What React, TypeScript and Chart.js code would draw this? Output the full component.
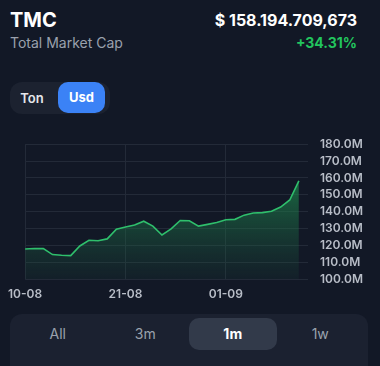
import React, { useEffect, useRef } from "react";
import { Chart, registerables } from "chart.js";

Chart.register(...registerables);

const dates = [
  "10-08", "11-08", "12-08", "13-08", "14-08", "15-08", "16-08", "17-08", "18-08", "19-08",
  "20-08", "21-08", "22-08", "23-08", "24-08", "25-08", "26-08", "27-08", "28-08", "29-08",
  "30-08", "31-08", "01-09", "02-09", "03-09", "04-09", "05-09", "06-09", "07-09", "08-09",
  "09-09",
];
const values = [
  117.8, 118.1, 118.0, 114.5, 114.1, 113.9, 119.6, 123.0, 122.7, 123.8,
  129.5, 130.9, 132.0, 134.3, 131.4, 126.1, 129.7, 134.7, 134.6, 131.4,
  132.4, 133.5, 135.2, 135.4, 137.9, 139.2, 139.4, 140.2, 142.7, 146.9,
  158.19,
];
const yTicks = [100, 110, 120, 130, 140, 150, 160, 170, 180];
const xTickIndexes = [0, 11, 22];
const ranges = ["All", "3m", "1m", "1w"];
const units = ["Ton", "Usd"];

const BG = "#121826";
const FONT = "Inter, 'Noto Sans', sans-serif";

export default function App() {
  const ref = useRef<HTMLCanvasElement | null>(null);

  useEffect(() => {
    document.body.style.margin = "0";
    document.body.style.background = BG;
    const ctx = ref.current!.getContext("2d")!;
    const chart = new Chart(ctx, {
      type: "line",
      data: {
        datasets: [
          {
            data: values.map((v, i) => ({ x: i, y: v })),
            borderColor: "#2fbf6c",
            borderWidth: 1.6,
            pointRadius: 0,
            tension: 0,
            fill: "start",
            backgroundColor: (c: any) => {
              const area = c.chart.chartArea;
              if (!area) return "rgba(34,160,90,0.3)";
              const g = c.chart.ctx.createLinearGradient(0, area.top, 0, area.bottom);
              g.addColorStop(0, "rgba(34,160,90,0.9)");
              g.addColorStop(0.4, "rgba(30,130,75,0.6)");
              g.addColorStop(1, "rgba(30,90,65,0.12)");
              return g;
            },
          },
        ],
      },
      options: {
        animation: false,
        responsive: false,
        maintainAspectRatio: false,
        layout: { padding: { top: 14, left: 24, right: 0, bottom: 0 } },
        plugins: { legend: { display: false }, tooltip: { enabled: false } },
        scales: {
          x: {
            type: "linear",
            min: 0,
            max: dates.length,
            afterBuildTicks: (s: any) => {
              s.ticks = xTickIndexes.map((v) => ({ value: v }));
            },
            afterFit: (s: any) => {
              s.height = 22;
            },
            grid: { color: "#232a38", drawTicks: false, lineWidth: 1 },
            border: { display: false },
            ticks: {
              autoSkip: false,
              padding: 8,
              color: "#b8bdc7",
              font: { family: FONT, size: 12, weight: "600" },
              maxRotation: 0,
              callback: (v: any) => dates[v as number] ?? "",
            },
          },
          y: {
            position: "right",
            min: 100,
            max: 180,
            afterBuildTicks: (s: any) => {
              s.ticks = yTicks.map((v) => ({ value: v }));
            },
            afterFit: (s: any) => {
              s.width = 62;
            },
            grid: { color: "#232a38", drawTicks: false, lineWidth: 1 },
            border: { display: false },
            ticks: {
              autoSkip: false,
              padding: 12,
              color: "#b8bdc7",
              font: { family: FONT, size: 12, weight: "600" },
              callback: (v: any) => Number(v).toFixed(1) + "M",
            },
          },
        },
      },
    } as any);
    return () => chart.destroy();
  }, []);

  return (
    <div
      style={{
        position: "relative",
        width: 380,
        height: 366,
        background: BG,
        overflow: "hidden",
        fontFamily: FONT,
        color: "#fff",
      }}
    >
      <div style={{ position: "absolute", left: 10, top: 10, fontSize: 20, lineHeight: "20px", fontWeight: 700 }}>
        TMC
      </div>
      <div style={{ position: "absolute", left: 10, top: 36, fontSize: 14, lineHeight: "14px", color: "#9aa1ad" }}>
        Total Market Cap
      </div>
      <div
        style={{
          position: "absolute",
          right: 23,
          top: 12,
          fontSize: 16,
          lineHeight: "16px",
          fontWeight: 700,
        }}
      >
        $ 158.194.709,673
      </div>
      <div
        style={{
          position: "absolute",
          right: 23,
          top: 36,
          fontSize: 14,
          lineHeight: "14px",
          fontWeight: 700,
          color: "#22c55e",
        }}
      >
        +34.31%
      </div>

      <div
        style={{
          position: "absolute",
          left: 10,
          top: 82,
          width: 100,
          height: 32,
          borderRadius: 12,
          background: "#1c2230",
        }}
      >
        <div
          style={{
            position: "absolute",
            left: 0,
            top: 0,
            width: 44,
            height: 32,
            lineHeight: "32px",
            textAlign: "center",
            fontSize: 13,
            fontWeight: 600,
            color: "#e5e7eb",
          }}
        >
          {units[0]}
        </div>
        <div
          style={{
            position: "absolute",
            left: 48,
            top: 0,
            width: 47,
            height: 31,
            lineHeight: "31px",
            textAlign: "center",
            borderRadius: 10,
            background: "#3b82f6",
            fontSize: 13,
            fontWeight: 700,
            color: "#fff",
          }}
        >
          {units[1]}
        </div>
      </div>

      <canvas
        ref={ref}
        width={370}
        height={176}
        style={{ position: "absolute", left: 0, top: 125, width: 370, height: 176 }}
      />

      <div
        style={{
          position: "absolute",
          left: 10,
          top: 314,
          width: 358,
          height: 64,
          borderRadius: 12,
          background: "#1b2130",
        }}
      >
        {ranges.map((r, i) => (
          <div
            key={r}
            style={{
              position: "absolute",
              left: 4 + i * 87.5,
              top: 4,
              width: 87.5,
              height: 32,
              lineHeight: "32px",
              textAlign: "center",
              borderRadius: 10,
              background: r === "1m" ? "#323a4a" : "transparent",
              fontSize: 14,
              fontWeight: r === "1m" ? 700 : 400,
              color: r === "1m" ? "#ffffff" : "#9aa1ad",
            }}
          >
            {r}
          </div>
        ))}
      </div>
    </div>
  );
}
